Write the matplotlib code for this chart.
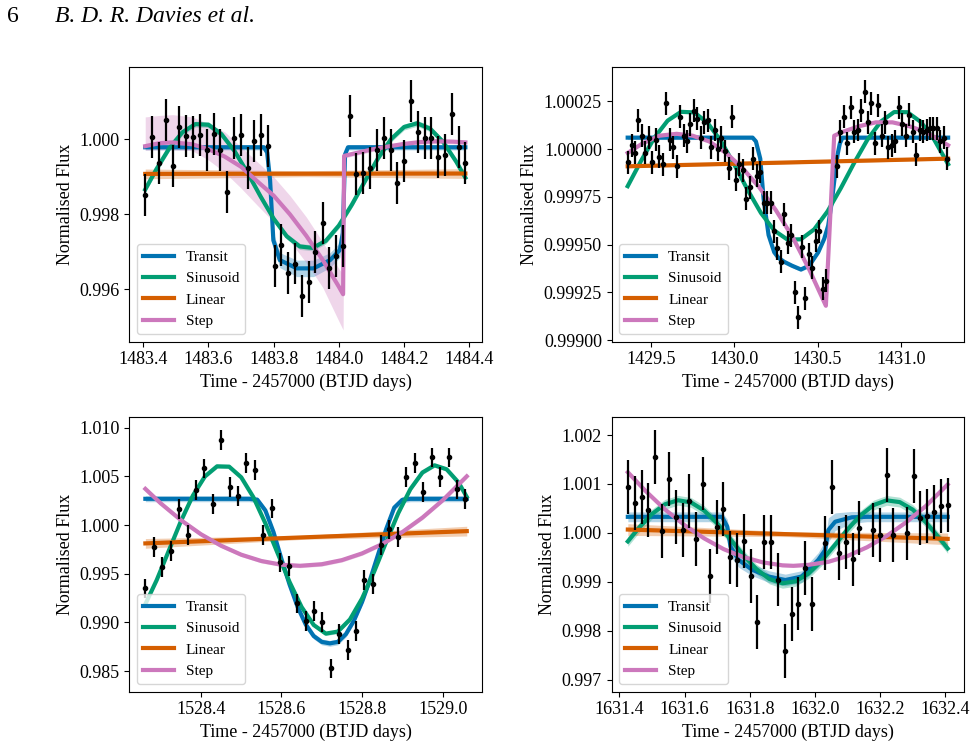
import matplotlib
matplotlib.use("Agg")
import matplotlib.pyplot as plt
import numpy as np
from matplotlib.ticker import FormatStrFormatter

plt.rcParams['font.family'] = ['Liberation Serif', 'DejaVu Serif']
plt.rcParams['font.size'] = 13

c_transit = '#0173b2'
c_sin = '#029e73'
c_lin = '#d55e00'
c_step = '#cc78bc'

# ---------------- panel 1 (top left) ----------------
p1_t = [1483.406, 1483.428, 1483.448, 1483.470, 1483.490, 1483.510, 1483.532, 1483.552, 1483.574, 1483.594,
        1483.616, 1483.636, 1483.658, 1483.678, 1483.700, 1483.720, 1483.740, 1483.762, 1483.782, 1483.804,
        1483.824, 1483.845, 1483.866, 1483.887, 1483.908, 1483.928, 1483.950, 1483.970, 1483.991, 1484.012,
        1484.033, 1484.054, 1484.075, 1484.095, 1484.117, 1484.137, 1484.159, 1484.179, 1484.200, 1484.221,
        1484.242, 1484.263, 1484.284, 1484.305, 1484.325, 1484.347, 1484.367, 1484.388]
p1_f = [0.99851, 1.00007, 0.99936, 1.00052, 0.99929, 1.00034, 1.00010, 1.00007, 1.00012, 0.99973,
        1.00014, 0.99973, 0.99860, 1.00005, 1.00012, 0.99924, 0.99996, 1.00012, 0.99982, 0.99663,
        0.99718, 0.99644, 0.99669, 0.99582, 0.99620, 0.99699, 0.99776, 0.99658, 0.99689, 0.99716,
        1.00063, 0.99907, 0.99911, 0.99923, 0.99973, 1.00005, 0.99972, 0.99883, 0.99943, 1.00102,
        1.00020, 1.00004, 1.00003, 0.99954, 0.99958, 1.00069, 0.99980, 0.99938]
p1_err = 0.00056

p1_transit_x = [1483.406, 1483.77, 1483.78, 1483.789, 1483.799, 1483.819, 1483.871, 1483.922, 1483.973,
                1484.003, 1484.012, 1484.019, 1484.028, 1484.388]
p1_transit_y = [0.99979, 0.99979, 0.99965, 0.99891, 0.99731, 0.99678, 0.99656, 0.99656, 0.99678,
                0.99705, 0.99750, 0.99960, 0.99979, 0.99979]
p1_transit_w = [0.00007, 0.00007, 0.0001, 0.00015, 0.0002, 0.0002, 0.00022, 0.00022, 0.0002,
                0.0002, 0.0002, 0.00012, 0.00007, 0.00007]

p1_sin_x = [1483.406, 1483.44, 1483.48, 1483.52, 1483.56, 1483.60, 1483.64, 1483.68, 1483.72, 1483.76,
            1483.80, 1483.84, 1483.88, 1483.92, 1483.96, 1484.00, 1484.04, 1484.08, 1484.12, 1484.16,
            1484.20, 1484.24, 1484.28, 1484.32, 1484.36, 1484.388]
p1_sin_y = [0.998664, 0.999201, 0.999767, 1.000190, 1.000408, 1.000390, 1.000138, 0.999689, 0.999107, 0.998476,
            0.997885, 0.997417, 0.997145, 0.997105, 0.997295, 0.997703, 0.998262, 0.998887, 0.999495, 1.000007,
            1.000331, 1.000430, 1.000286, 0.999931, 0.999406, 0.998979]
p1_sin_w = 0.00008

p1_lin_x = [1483.406, 1483.9, 1484.388]
p1_lin_y = [0.99908, 0.999085, 0.99909]
p1_lin_w = [0.00013, 0.00008, 0.00013]

p1_step_x = [1483.406, 1483.45, 1483.49, 1483.55, 1483.60, 1483.65, 1483.70, 1483.75, 1483.80, 1483.85,
             1483.90, 1483.95, 1484.00, 1484.013, 1484.016, 1484.05, 1484.10, 1484.15, 1484.20, 1484.25,
             1484.30, 1484.35, 1484.388]
p1_step_y = [0.99982, 0.99990, 0.99992, 0.99987, 0.99974, 0.99954, 0.99927, 0.99888, 0.99850, 0.99800,
             0.99743, 0.99679, 0.99607, 0.99587, 0.99956, 0.99963, 0.99973, 0.99981, 0.99988, 0.99993,
             0.99995, 0.99994, 0.99992]
p1_step_lo = [0.99971, 0.99972, 0.99972, 0.99970, 0.99945, 0.99912, 0.99870, 0.99824, 0.99780, 0.99728,
              0.99671, 0.99606, 0.99515, 0.99492, 0.99950, 0.99957, 0.99967, 0.99975, 0.99982, 0.99987,
              0.99989, 0.99988, 0.99986]
p1_step_hi = [1.00060, 1.00064, 1.00066, 1.00060, 1.00042, 1.00020, 0.99980, 0.99940, 0.99900, 0.99850,
              0.99793, 0.99727, 0.99655, 0.99640, 0.99962, 0.99969, 0.99979, 0.99987, 0.99994, 0.99999,
              1.00001, 1.00000, 0.99998]

# ---------------- panel 2 (top right) ----------------
p2_t = [1429.360, 1429.384, 1429.404, 1429.424, 1429.446, 1429.466, 1429.488, 1429.508, 1429.528, 1429.550,
        1429.570, 1429.590, 1429.612, 1429.632, 1429.654, 1429.674, 1429.696, 1429.716, 1429.736, 1429.758,
        1429.778, 1429.798, 1429.820, 1429.840, 1429.860, 1429.882, 1429.902, 1429.922, 1429.944, 1429.966,
        1429.988, 1430.008, 1430.030, 1430.050, 1430.072, 1430.092, 1430.112, 1430.134, 1430.154, 1430.176,
        1430.196, 1430.218, 1430.238, 1430.258, 1430.280, 1430.300, 1430.322, 1430.342, 1430.362, 1430.384,
        1430.404, 1430.426, 1430.446, 1430.468, 1430.488, 1430.508, 1430.530, 1430.550, 1430.616, 1430.636,
        1430.656, 1430.678, 1430.698, 1430.718, 1430.740, 1430.760, 1430.782, 1430.802, 1430.822, 1430.844,
        1430.864, 1430.886, 1430.906, 1430.926, 1430.948, 1430.968, 1430.990, 1431.010, 1431.032, 1431.052,
        1431.072, 1431.094, 1431.114, 1431.134, 1431.156, 1431.176, 1431.196, 1431.218, 1431.238, 1431.258,
        1431.280]
p2_f = [0.99993, 1.00002, 0.99998, 1.00015, 1.00007, 0.99998, 1.00006, 0.99993, 1.00005, 0.99996,
        0.99992, 1.00024, 1.00005, 1.00001, 0.99991, 1.00017, 1.00007, 1.00004, 1.00013, 1.00020,
        1.00016, 1.00006, 1.00014, 1.00015, 1.00001, 1.00010, 1.00000, 1.00006, 0.99999, 0.99990,
        1.00017, 0.99984, 0.99992, 0.99989, 0.99974, 0.99980, 0.99995, 0.99986, 0.99988, 0.99972,
        0.99972, 0.99972, 0.99957, 0.99948, 0.99941, 0.99966, 0.99951, 0.99955, 0.99925, 0.99912,
        0.99949, 0.99922, 0.99945, 0.99938, 0.99952, 0.99957, 0.99927, 0.99931, 0.99991, 1.00009,
        1.00017, 1.00003, 1.00022, 1.00009, 1.00010, 1.00020, 1.00030, 1.00014, 1.00024, 1.00003,
        1.00023, 1.00007, 1.00014, 1.00001, 1.00002, 1.00004, 1.00022, 1.00013, 1.00007, 1.00018,
        1.00009, 0.99997, 1.00010, 1.00009, 1.00010, 1.00011, 1.00011, 1.00011, 1.00004, 1.00006,
        0.99995]
p2_err = 0.00006

p2_transit_x = [1429.36, 1430.11, 1430.13, 1430.156, 1430.176, 1430.206, 1430.24, 1430.266, 1430.30, 1430.346,
                1430.40, 1430.45, 1430.504, 1430.54, 1430.564, 1430.585, 1430.604, 1430.62, 1430.634, 1430.65,
                1431.284]
p2_transit_y = [1.00006, 1.00006, 1.00004, 0.99995, 0.99974, 0.99955, 0.99946, 0.99943, 0.99941, 0.99939,
                0.99937, 0.99939, 0.99946, 0.99953, 0.99960, 0.99972, 0.99986, 0.99997, 1.00003, 1.00006,
                1.00006]
p2_transit_w = 0.00001

p2_sin_x = [1429.36, 1429.44, 1429.52, 1429.60, 1429.68, 1429.76, 1429.84, 1429.92, 1430.00, 1430.08,
            1430.16, 1430.24, 1430.32, 1430.40, 1430.48, 1430.56, 1430.64, 1430.72, 1430.80, 1430.88,
            1430.96, 1431.04, 1431.12, 1431.20, 1431.284]
p2_sin_y = [0.999806, 0.999938, 1.000059, 1.000149, 1.000195, 1.000192, 1.000137, 1.000042, 0.999919, 0.999787,
            0.999666, 0.999574, 0.999526, 0.999528, 0.999580, 0.999674, 0.999796, 0.999928, 1.000050, 1.000144,
            1.000194, 1.000193, 1.000142, 1.000050, 0.999921]
p2_sin_w = 0.000005

p2_lin_x = [1429.36, 1431.284]
p2_lin_y = [0.99991, 0.99995]
p2_lin_w = 0.000007

p2_step_x = [1429.36, 1429.45, 1429.55, 1429.654, 1429.75, 1429.85, 1429.95, 1430.05, 1430.15, 1430.25,
             1430.35, 1430.45, 1430.55, 1430.60, 1430.65, 1430.75, 1430.85, 1430.95, 1431.05, 1431.15,
             1431.284]
p2_step_y = [0.99998, 1.00003, 1.00007, 1.00008, 1.00007, 1.00004, 0.99998, 0.99990, 0.99980, 0.99968,
             0.99954, 0.99937, 0.99918, 1.00007, 1.00009, 1.00012, 1.00014, 1.00014, 1.00012, 1.00009,
             1.00002]
p2_step_w = 0.000005

# ---------------- panel 3 (bottom left) ----------------
p3_t = [1528.262, 1528.283, 1528.304, 1528.325, 1528.346, 1528.367, 1528.388, 1528.408, 1528.429, 1528.450,
        1528.471, 1528.493, 1528.513, 1528.534, 1528.555, 1528.576, 1528.597, 1528.618, 1528.638, 1528.660,
        1528.681, 1528.701, 1528.722, 1528.743, 1528.764, 1528.785, 1528.806, 1528.826, 1528.847, 1528.868,
        1528.889, 1528.910, 1528.931, 1528.952, 1528.973, 1528.993, 1529.015, 1529.036, 1529.056]
p3_f = [0.99349, 0.99771, 0.99572, 0.99736, 1.00161, 0.99894, 1.00360, 1.00582, 1.00216, 1.00873,
        1.00394, 1.00298, 1.00640, 1.00565, 0.99897, 1.00171, 0.99616, 0.99582, 0.99195, 0.99017,
        0.99116, 0.99007, 0.98527, 0.98877, 0.98716, 0.98914, 0.99435, 0.99394, 0.99795, 0.99955,
        0.99880, 1.00497, 1.00634, 1.00342, 1.00695, 1.00497, 1.00695, 1.00366, 1.00264]
p3_err = 0.00102

p3_transit_x = [1528.262, 1528.52, 1528.54, 1528.56, 1528.58, 1528.60, 1528.62, 1528.64, 1528.66, 1528.68,
                1528.70, 1528.72, 1528.74, 1528.76, 1528.78, 1528.80, 1528.82, 1528.84, 1528.86, 1528.88,
                1528.90, 1528.92, 1529.06]
p3_transit_y = [1.0027, 1.0027, 1.0026, 1.0015, 0.9993, 0.9965, 0.9939, 0.9916, 0.9898, 0.9886,
                0.9880, 0.98785, 0.9880, 0.9888, 0.9902, 0.9921, 0.9944, 0.9970, 0.9996, 1.0018,
                1.0026, 1.0027, 1.0027]
p3_transit_w = 0.0003

p3_sin_x = [1528.262, 1528.29, 1528.32, 1528.35, 1528.38, 1528.41, 1528.44, 1528.47, 1528.50, 1528.53,
            1528.56, 1528.59, 1528.62, 1528.65, 1528.68, 1528.71, 1528.74, 1528.77, 1528.80, 1528.83,
            1528.86, 1528.89, 1528.92, 1528.95, 1528.98, 1529.01, 1529.04, 1529.06]
p3_sin_y = [0.991881, 0.994338, 0.997350, 1.000379, 1.003035, 1.005006, 1.006039, 1.006004, 1.004910, 1.002879,
            1.000180, 0.997150, 0.994156, 0.991578, 0.989737, 0.988852, 0.989060, 0.990310, 0.992454, 0.995215,
            0.998270, 1.001230, 1.003695, 1.005405, 1.006143, 1.005735, 1.004355, 1.002896]
p3_sin_w = 0.0002

p3_lin_x = [1528.262, 1528.66, 1529.06]
p3_lin_y = [0.99812, 0.99875, 0.99938]
p3_lin_w = [0.0005, 0.0002, 0.0005]

p3_step_x = [1528.262, 1528.30, 1528.35, 1528.40, 1528.45, 1528.50, 1528.55, 1528.60, 1528.646, 1528.70,
             1528.75, 1528.80, 1528.85, 1528.90, 1528.95, 1529.00, 1529.06]
p3_step_y = [1.00372, 1.00224, 1.00052, 0.99906, 0.99788, 0.99696, 0.99631, 0.99593, 0.99582, 0.99598,
             0.99640, 0.99709, 0.99805, 0.99928, 1.00077, 1.00254, 1.00501]
p3_step_w = 0.0002

# ---------------- panel 4 (bottom right) ----------------
p4_t = [1631.426, 1631.447, 1631.469, 1631.489, 1631.510, 1631.531, 1631.552, 1631.573, 1631.594, 1631.615,
        1631.636, 1631.657, 1631.677, 1631.699, 1631.719, 1631.739, 1631.761, 1631.781, 1631.803, 1631.823,
        1631.845, 1631.865, 1631.886, 1631.907, 1631.928, 1631.949, 1631.970, 1631.990, 1632.032, 1632.053,
        1632.074, 1632.094, 1632.116, 1632.136, 1632.178, 1632.199, 1632.220, 1632.240, 1632.282, 1632.303,
        1632.323, 1632.345, 1632.365, 1632.386, 1632.407]
p4_f = [1.00093, 1.00062, 1.00074, 1.00047, 1.00156, 1.00004, 1.00110, 1.00033, 1.00006, 1.00065,
        0.99987, 1.00101, 0.99913, 1.00012, 1.00049, 0.99950, 0.99945, 0.99984, 0.99913, 0.99818,
        0.99981, 0.99981, 0.99905, 0.99759, 0.99835, 0.99856, 0.99928, 0.99855, 0.99979, 1.00093,
        0.99960, 0.99981, 0.99946, 1.00010, 1.00006, 0.99996, 1.00119, 0.99996, 0.99999, 1.00116,
        1.00031, 1.00035, 1.00042, 1.00056, 1.00057]
p4_err = 0.00055

p4_transit_x = [1631.426, 1631.715, 1631.731, 1631.741, 1631.766, 1631.807, 1631.858, 1631.909, 1631.959,
                1632.010, 1632.031, 1632.041, 1632.062, 1632.113, 1632.16, 1632.407]
p4_transit_y = [1.00033, 1.00033, 1.00013, 0.99972, 0.99945, 0.99925, 0.99911, 0.99904, 0.99911,
                0.99945, 0.99965, 1.00006, 1.00023, 1.00032, 1.00033, 1.00033]
p4_transit_w = [0.0001, 0.0001, 0.00015, 0.0002, 0.00015, 0.00012, 0.00012, 0.00012, 0.00012,
                0.00015, 0.0002, 0.00025, 0.00018, 0.00012, 0.0001, 0.0001]

p4_sin_x = [1631.426, 1631.46, 1631.50, 1631.54, 1631.58, 1631.62, 1631.66, 1631.70, 1631.74, 1631.78,
            1631.82, 1631.86, 1631.90, 1631.94, 1631.98, 1632.02, 1632.06, 1632.10, 1632.14, 1632.18,
            1632.22, 1632.26, 1632.30, 1632.34, 1632.38, 1632.407]
p4_sin_y = [0.999828, 1.000105, 1.000388, 1.000586, 1.000668, 1.000623, 1.000458, 1.000197, 0.999878, 0.999551,
            0.999265, 0.999062, 0.998973, 0.999012, 0.999171, 0.999430, 0.999747, 1.000073, 1.000361, 1.000571,
            1.000666, 1.000630, 1.000476, 1.000220, 0.999906, 0.999684]
p4_sin_w = 0.0001

p4_lin_x = [1631.426, 1631.92, 1632.407]
p4_lin_y = [1.00007, 0.999975, 0.99988]
p4_lin_w = [0.00012, 0.00005, 0.00012]

p4_step_x = [1631.426, 1631.48, 1631.54, 1631.60, 1631.66, 1631.72, 1631.78, 1631.84, 1631.90, 1631.934,
             1631.98, 1632.04, 1632.10, 1632.16, 1632.22, 1632.28, 1632.34, 1632.407]
p4_step_y = [1.00124, 1.00086, 1.00048, 1.00016, 0.99989, 0.99967, 0.99951, 0.99940, 0.99934, 0.99933,
             0.99935, 0.99941, 0.99953, 0.99971, 0.99994, 1.00022, 1.00055, 1.00099]
p4_step_w = 0.00003


def band(ax, x, y, w, c):
    x = np.asarray(x)
    y = np.asarray(y)
    w = np.asarray(w)
    ax.fill_between(x, y - w, y + w, color=c, alpha=0.3, lw=0, zorder=1)


def draw(ax, t, f, err, tr, si, li, st):
    # tr/si/li/st : (x, y, band)
    for (x, y, w), c, lab in [(tr, c_transit, 'Transit'), (si, c_sin, 'Sinusoid'),
                              (li, c_lin, 'Linear'), (st, c_step, 'Step')]:
        if isinstance(w, tuple):
            ax.fill_between(x, w[0], w[1], color=c, alpha=0.3, lw=0, zorder=1)
        else:
            band(ax, x, y, w, c)
        ax.plot(x, y, color=c, lw=3, label=lab, zorder=2)
    ax.errorbar(t, f, yerr=err, fmt='o', color='k', ms=3, elinewidth=1.6, capsize=0, zorder=3)
    ax.legend(loc='lower left', fontsize=11)
    ax.set_xlabel('Time - 2457000 (BTJD days)')
    ax.set_ylabel('Normalised Flux')


fig = plt.figure(figsize=(9.77, 7.55), dpi=100)
ax1 = fig.add_axes([0.1323, 0.5474, 0.3607, 0.3642])
ax2 = fig.add_axes([0.6261, 0.5474, 0.3607, 0.3642])
ax3 = fig.add_axes([0.1323, 0.0838, 0.3607, 0.3642])
ax4 = fig.add_axes([0.6261, 0.0838, 0.3609, 0.3634])

draw(ax1, p1_t, p1_f, p1_err,
     (p1_transit_x, p1_transit_y, p1_transit_w), (p1_sin_x, p1_sin_y, p1_sin_w),
     (p1_lin_x, p1_lin_y, p1_lin_w), (p1_step_x, p1_step_y, (p1_step_lo, p1_step_hi)))
draw(ax2, p2_t, p2_f, p2_err,
     (p2_transit_x, p2_transit_y, p2_transit_w), (p2_sin_x, p2_sin_y, p2_sin_w),
     (p2_lin_x, p2_lin_y, p2_lin_w), (p2_step_x, p2_step_y, p2_step_w))
draw(ax3, p3_t, p3_f, p3_err,
     (p3_transit_x, p3_transit_y, p3_transit_w), (p3_sin_x, p3_sin_y, p3_sin_w),
     (p3_lin_x, p3_lin_y, p3_lin_w), (p3_step_x, p3_step_y, p3_step_w))
draw(ax4, p4_t, p4_f, p4_err,
     (p4_transit_x, p4_transit_y, p4_transit_w), (p4_sin_x, p4_sin_y, p4_sin_w),
     (p4_lin_x, p4_lin_y, p4_lin_w), (p4_step_x, p4_step_y, p4_step_w))

ax1.set_xlim(1483.357, 1484.438)
ax1.set_ylim(0.994604, 1.001938)
ax1.set_xticks([1483.4, 1483.6, 1483.8, 1484.0, 1484.2, 1484.4])
ax1.set_yticks([0.996, 0.998, 1.000])
ax1.xaxis.set_major_formatter(FormatStrFormatter('%.1f'))
ax1.yaxis.set_major_formatter(FormatStrFormatter('%.3f'))

ax2.set_xlim(1429.264, 1431.38)
ax2.set_ylim(0.998992, 1.000431)
ax2.set_xticks([1429.5, 1430.0, 1430.5, 1431.0])
ax2.set_yticks([0.999, 0.99925, 0.9995, 0.99975, 1.0, 1.00025])
ax2.xaxis.set_major_formatter(FormatStrFormatter('%.1f'))
ax2.yaxis.set_major_formatter(FormatStrFormatter('%.5f'))

ax3.set_xlim(1528.222, 1529.097)
ax3.set_ylim(0.98288, 1.01113)
ax3.set_xticks([1528.4, 1528.6, 1528.8, 1529.0])
ax3.set_yticks([0.985, 0.990, 0.995, 1.000, 1.005, 1.010])
ax3.xaxis.set_major_formatter(FormatStrFormatter('%.1f'))
ax3.yaxis.set_major_formatter(FormatStrFormatter('%.3f'))

ax4.set_xlim(1631.3765, 1632.458)
ax4.set_ylim(0.99676, 1.00236)
ax4.set_xticks([1631.4, 1631.6, 1631.8, 1632.0, 1632.2, 1632.4])
ax4.set_yticks([0.997, 0.998, 0.999, 1.000, 1.001, 1.002])
ax4.xaxis.set_major_formatter(FormatStrFormatter('%.1f'))
ax4.yaxis.set_major_formatter(FormatStrFormatter('%.3f'))

fig.text(0.007, 1 - 22 / 755, '6', fontsize=17, va='baseline')
fig.text(0.056, 1 - 22 / 755, 'B. D. R. Davies et al.', fontsize=17, style='italic', va='baseline')

fig.savefig('out.png', dpi=100)
